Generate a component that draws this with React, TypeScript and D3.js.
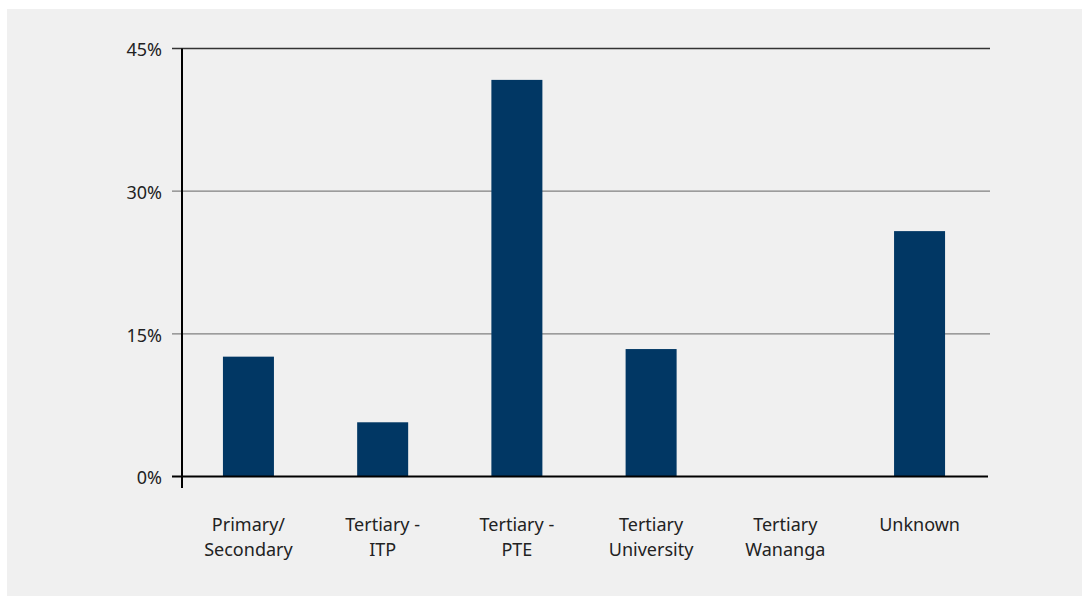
import { useEffect, useRef } from "react";
import { select, scaleLinear, scaleBand } from "d3";

const width = 1082;
const height = 596;

const categories = [
  ["Primary/", "Secondary"],
  ["Tertiary -", "ITP"],
  ["Tertiary -", "PTE"],
  ["Tertiary", "University"],
  ["Tertiary", "Wananga"],
  ["Unknown"],
];
const values = [12.6, 5.7, 41.7, 13.4, 0, 25.8];
const yTicks = [0, 15, 30, 45];

const left = 182;
const right = 990;
const top = 48.5;
const bottom = 476.5;
const barColor = "#013764";
const font = "'Noto Sans', sans-serif";

export default function App() {
  const svgRef = useRef<SVGSVGElement | null>(null);

  useEffect(() => {
    const svg = select(svgRef.current);
    svg.selectAll("*").remove();

    const y = scaleLinear().domain([0, 45]).range([bottom, top]);
    const x = scaleBand<number>()
      .domain(values.map((_, i) => i))
      .range([left, 986])
      .paddingInner(0.62)
      .paddingOuter(0.305);

    svg
      .append("rect")
      .attr("x", 7)
      .attr("y", 9)
      .attr("width", width - 7)
      .attr("height", height - 9)
      .attr("fill", "#f0f0f0");

    // grid lines
    svg
      .selectAll(".grid")
      .data(yTicks.filter((t) => t > 0))
      .enter()
      .append("line")
      .attr("x1", 172)
      .attr("x2", right)
      .attr("y1", (d) => y(d))
      .attr("y2", (d) => y(d))
      .attr("stroke", (d) => (d === 45 ? "#333" : "#808080"))
      .attr("stroke-width", 1.3);

    svg
      .selectAll(".ylab")
      .data(yTicks)
      .enter()
      .append("text")
      .attr("x", 162)
      .attr("y", (d) => y(d) + 3)
      .attr("text-anchor", "end")
      .attr("dominant-baseline", "middle")
      .attr("font-family", font)
      .attr("font-size", 18)
      .attr("fill", "#222")
      .text((d) => d + "%");

    svg
      .selectAll(".bar")
      .data(values)
      .enter()
      .append("rect")
      .attr("x", (_, i) => x(i)!)
      .attr("width", x.bandwidth())
      .attr("y", (d) => y(d))
      .attr("height", (d) => y(0) - y(d))
      .attr("fill", barColor);

    // zero line and y axis
    svg
      .append("line")
      .attr("x1", 172)
      .attr("x2", 988)
      .attr("y1", y(0))
      .attr("y2", y(0))
      .attr("stroke", "#000")
      .attr("stroke-width", 2.2);
    svg
      .append("line")
      .attr("x1", left)
      .attr("x2", left)
      .attr("y1", top)
      .attr("y2", 488)
      .attr("stroke", "#000")
      .attr("stroke-width", 2);

    const labels = svg
      .selectAll(".xlab")
      .data(categories)
      .enter()
      .append("text")
      .attr("text-anchor", "middle")
      .attr("font-family", font)
      .attr("font-size", 18)
      .attr("fill", "#222");
    labels
      .selectAll("tspan")
      .data((d, i) => d.map((line) => ({ line, i })))
      .enter()
      .append("tspan")
      .attr("x", (d) => x(d.i)! + x.bandwidth() / 2)
      .attr("y", (_, j) => 531 + j * 25)
      .text((d) => d.line);
  }, []);

  return (
    <svg
      ref={svgRef}
      width={width}
      height={height}
      style={{ position: "absolute", left: 0, top: 0 }}
    />
  );
}
